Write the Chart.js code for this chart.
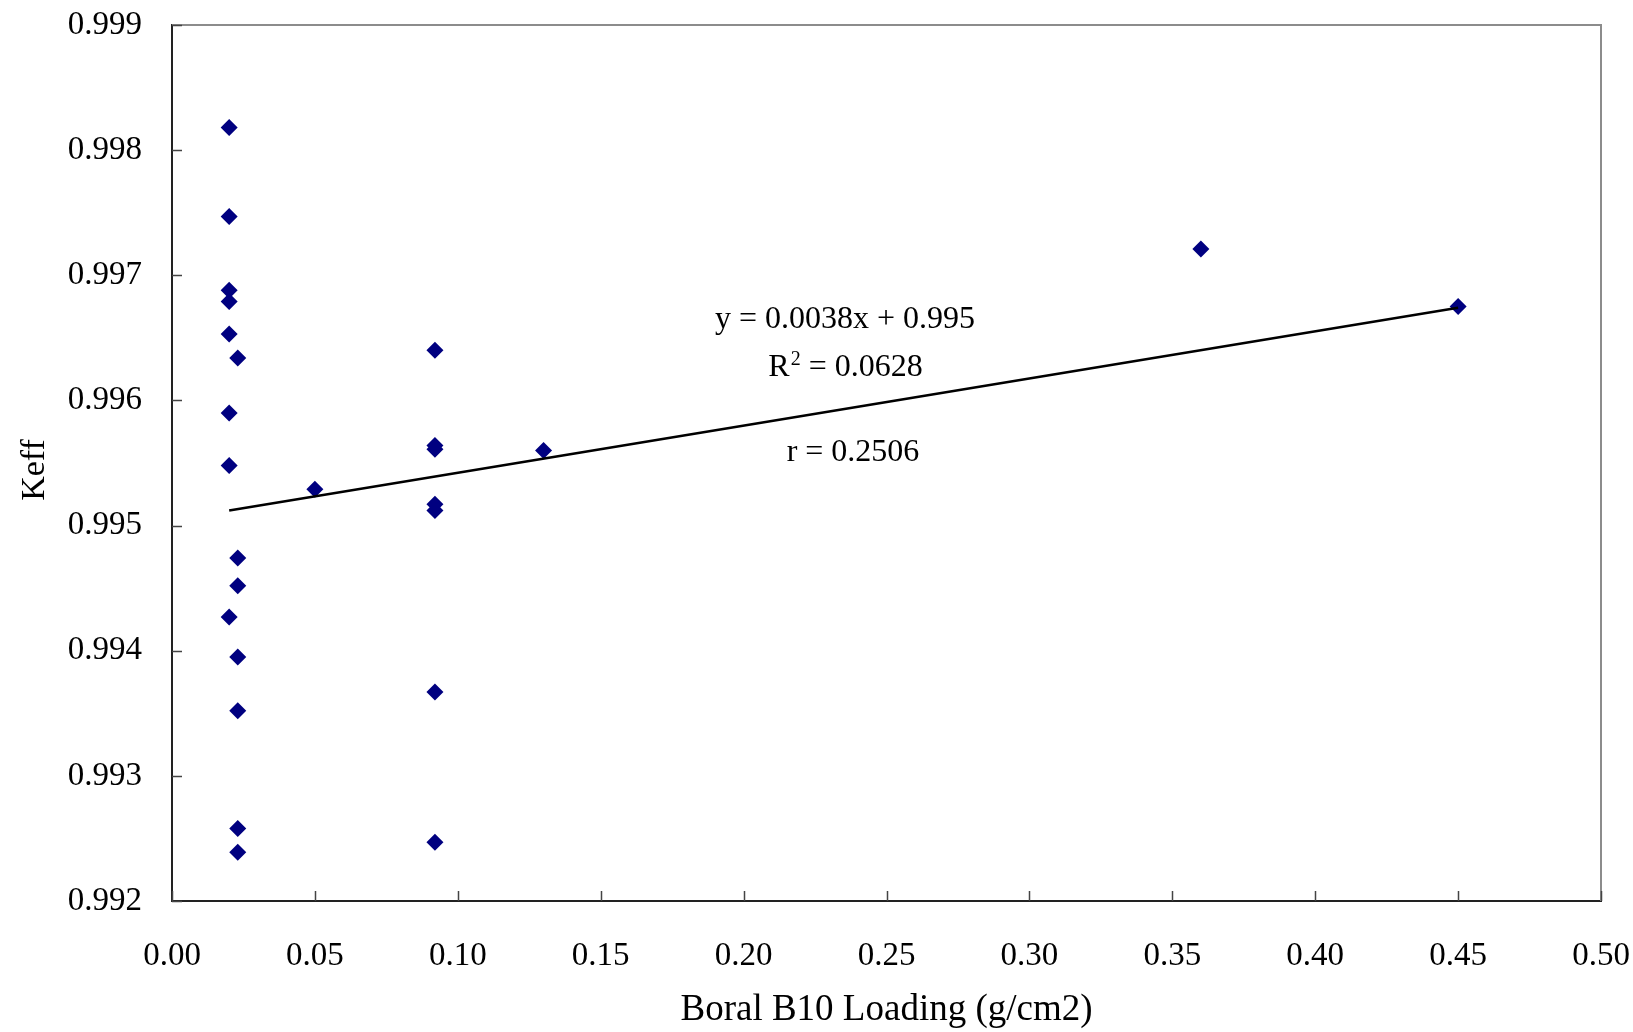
<!DOCTYPE html>
<html>
<head>
<meta charset="utf-8">
<title>Keff vs Boral B10 Loading</title>
<script src="https://cdn.jsdelivr.net/npm/chart.js@4.4.1/dist/chart.umd.min.js"></script>
<style>
  html, body { margin: 0; padding: 0; background: #fff; }
  #wrap { width: 1633px; height: 1032px; position: relative; }
</style>
</head>
<body>
<div id="wrap"><canvas id="chart"></canvas></div>
<script>
// Data
const loadingX = [
  0.02, 0.02, 0.02, 0.02, 0.02, 0.02, 0.02, 0.02,
  0.023, 0.023, 0.023, 0.023, 0.023, 0.023, 0.023,
  0.05,
  0.092, 0.092, 0.092, 0.092, 0.092, 0.092, 0.092,
  0.13, 0.36, 0.45
];
const keffY = [
  0.99818, 0.99747, 0.99688, 0.99679, 0.99653, 0.99590, 0.99548, 0.99427,
  0.99634, 0.99474, 0.99452, 0.99395, 0.99352, 0.99258, 0.99239,
  0.99529,
  0.99640, 0.99564, 0.99561, 0.99517, 0.99512, 0.99367, 0.99247,
  0.99560, 0.99721, 0.99675
];
// linear trendline endpoints (y = 0.0038x + 0.995)
const trendX = [0.02, 0.45];
const trendY = [0.99512, 0.99674];

const xTicks = [0.00, 0.05, 0.10, 0.15, 0.20, 0.25, 0.30, 0.35, 0.40, 0.45, 0.50];
const yTicks = [0.992, 0.993, 0.994, 0.995, 0.996, 0.997, 0.998, 0.999];

const FONT = '"Liberation Serif", "Times New Roman", serif';

// Frame: gray top/right border plus inward tick marks
const framePlugin = {
  id: 'frame',
  afterDraw(chart) {
    const {ctx, chartArea: a, scales} = chart;
    ctx.save();
    ctx.strokeStyle = '#8c8c8c';
    ctx.lineWidth = 2;
    ctx.beginPath();
    ctx.moveTo(a.left, a.top);
    ctx.lineTo(a.right, a.top);
    ctx.lineTo(a.right, a.bottom);
    ctx.stroke();

    ctx.strokeStyle = '#444';
    ctx.lineWidth = 1.5;
    ctx.beginPath();
    scales.y.ticks.forEach(t => {
      const py = Math.round(scales.y.getPixelForValue(t.value)) + 0.5;
      ctx.moveTo(a.left, py);
      ctx.lineTo(a.left + 10, py);
    });
    scales.x.ticks.forEach(t => {
      const px = Math.round(scales.x.getPixelForValue(t.value)) + 0.5;
      ctx.moveTo(px, a.bottom);
      ctx.lineTo(px, a.bottom - 10);
    });
    ctx.stroke();
    ctx.restore();
  }
};

// Regression text labels + y axis title
const labelPlugin = {
  id: 'regLabels',
  afterDraw(chart) {
    const {ctx, chartArea: a} = chart;
    const cx = a.left + 673;
    ctx.save();
    ctx.fillStyle = '#000';
    ctx.textBaseline = 'alphabetic';
    ctx.font = '32px ' + FONT;
    ctx.textAlign = 'center';
    ctx.fillText('y = 0.0038x + 0.995', cx, a.top + 303);
    ctx.fillText('r = 0.2506', cx + 8, a.top + 436);

    // R² with superscript
    const big = '32px ' + FONT, small = '20px ' + FONT;
    ctx.font = big;
    const wR = ctx.measureText('R').width;
    const wRest = ctx.measureText(' = 0.0628').width;
    ctx.font = small;
    const w2 = ctx.measureText('2').width;
    let x = cx - (wR + w2 + wRest) / 2;
    const base = a.top + 351;
    ctx.textAlign = 'left';
    ctx.font = big;
    ctx.fillText('R', x, base);
    x += wR + 1;
    ctx.font = small;
    ctx.fillText('2', x, base - 11);
    x += w2;
    ctx.font = big;
    ctx.fillText(' = 0.0628', x, base);

    // "Keff" rotated, sits a little below the axis middle
    ctx.translate(44, 470);
    ctx.rotate(-Math.PI / 2);
    ctx.textAlign = 'center';
    ctx.font = '34px ' + FONT;
    ctx.fillText('Keff', 0, 0);
    ctx.restore();
  }
};

new Chart(document.getElementById('chart'), {
  type: 'scatter',
  data: {
    datasets: [
      {
        type: 'line',
        label: 'Linear',
        data: trendX.map((x, i) => ({x, y: trendY[i]})),
        borderColor: '#000',
        borderWidth: 2.5,
        pointRadius: 0,
        fill: false
      },
      {
        label: 'Keff',
        data: loadingX.map((x, i) => ({x, y: keffY[i]})),
        pointStyle: 'rectRot',
        pointRadius: 8.5,
        pointHoverRadius: 8.5,
        backgroundColor: '#000080',
        borderColor: '#000080',
        borderWidth: 0
      }
    ]
  },
  options: {
    responsive: true,
    maintainAspectRatio: false,
    animation: false,
    layout: { padding: { left: 0, top: 25, right: 32, bottom: 0 } },
    plugins: {
      legend: { display: false },
      tooltip: { enabled: false }
    },
    scales: {
      x: {
        type: 'linear',
        min: 0, max: 0.5,
        afterBuildTicks: s => { s.ticks = xTicks.map(v => ({value: v})); },
        afterFit: s => {
          s.height = 131;
          s.paddingLeft = 0; s.paddingRight = 0;
        },
        grid: { display: false, drawTicks: false },
        border: { display: true, color: '#222', width: 2 },
        ticks: {
          padding: 36,
          color: '#000',
          font: { family: FONT, size: 33 },
          callback: v => v.toFixed(2)
        },
        title: {
          display: true,
          text: 'Boral B10 Loading (g/cm2)',
          color: '#000',
          font: { family: FONT, size: 37 },
          padding: { top: 6, bottom: 0 }
        }
      },
      y: {
        type: 'linear',
        min: 0.992, max: 0.999,
        afterBuildTicks: s => { s.ticks = yTicks.map(v => ({value: v})); },
        afterFit: s => {
          s.width = 172;
          s.paddingTop = 0; s.paddingBottom = 0;
        },
        grid: { display: false, drawTicks: false },
        border: { display: true, color: '#222', width: 2 },
        ticks: {
          padding: 30,
          color: '#000',
          font: { family: FONT, size: 33 },
          callback: v => v.toFixed(3)
        },
        title: { display: false }
      }
    }
  },
  plugins: [framePlugin, labelPlugin]
});
</script>
</body>
</html>
